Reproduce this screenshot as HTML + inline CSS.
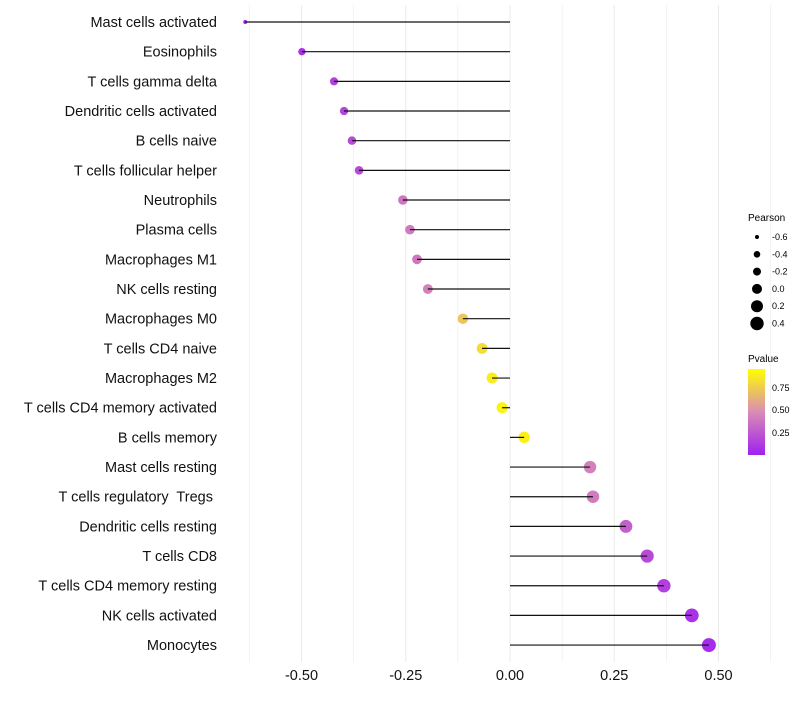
<!DOCTYPE html>
<html><head><meta charset="utf-8"><style>
body{margin:0;background:#fff;font-family:"Liberation Sans",sans-serif;}
svg text{font-family:"Liberation Sans",sans-serif;white-space:pre;}
</style></head><body>
<svg id="chart" width="800" height="700">
<defs><linearGradient id="pg" x1="0" y1="1" x2="0" y2="0">
<stop offset="0" stop-color="#a020f0"/><stop offset="0.5" stop-color="#d98cb4"/><stop offset="1" stop-color="#ffff00"/></linearGradient></defs>
<g id="grid"></g><g id="marks"></g><g id="labels"></g><g id="xticks"></g>
<g id="legP">
<text x="748" y="221" font-size="10">Pearson</text></g>
<g>
<text x="748" y="362" font-size="10">Pvalue</text>
<rect x="748" y="369" width="17" height="86" fill="url(#pg)"/>
<text x="772" y="391" font-size="9">0.75</text>
<text x="772" y="413" font-size="9">0.50</text>
<text x="772" y="436" font-size="9">0.25</text>
</g>
</svg>
<script>
const categories=["Mast cells activated","Eosinophils","T cells gamma delta","Dendritic cells activated","B cells naive","T cells follicular helper","Neutrophils","Plasma cells","Macrophages M1","NK cells resting","Macrophages M0","T cells CD4 naive","Macrophages M2","T cells CD4 memory activated","B cells memory","Mast cells resting","T cells regulatory  Tregs ","Dendritic cells resting","T cells CD8","T cells CD4 memory resting","NK cells activated","Monocytes"];
const pearson=[-0.635,-0.499,-0.422,-0.398,-0.379,-0.362,-0.257,-0.240,-0.223,-0.197,-0.113,-0.067,-0.043,-0.019,0.034,0.192,0.199,0.278,0.329,0.369,0.436,0.477];
const pvalue=[0.02,0.08,0.15,0.17,0.2,0.2,0.4,0.42,0.4,0.45,0.75,0.85,0.92,0.95,0.93,0.45,0.42,0.3,0.2,0.15,0.08,0.05];
const xTicks=[-0.5,-0.25,0,0.25,0.5];
const xTickLabels=["-0.50","-0.25","0.00","0.25","0.50"];
const legendVals=[-0.6,-0.4,-0.2,0.0,0.2,0.4];
const legendLabels=["-0.6","-0.4","-0.2","0.0","0.2","0.4"];
const NS="http://www.w3.org/2000/svg";
const x=v=>510+417*v;
const y=i=>22+i*29.67;
const r=v=>v<-0.55?2:Math.sqrt(Math.max(4,31.7+36*v));
function col(p){const s=[[160,32,240],[217,140,180],[255,255,0]];let a,b,t;if(p<0.5){a=s[0];b=s[1];t=p/0.5;}else{a=s[1];b=s[2];t=(p-0.5)/0.5;}return `rgb(${a.map((c,k)=>Math.round(c+(b[k]-c)*t)).join(',')})`;}
function mk(tag,attrs,parent){const e=document.createElementNS(NS,tag);for(const k in attrs)e.setAttribute(k,attrs[k]);parent.appendChild(e);return e;}
const grid=document.getElementById('grid'),marks=document.getElementById('marks'),labels=document.getElementById('labels'),xt=document.getElementById('xticks'),legP=document.getElementById('legP');
for(let v=-0.625;v<=0.63;v+=0.125){const g=mk('line',{x1:x(v),x2:x(v),y1:5,y2:662,stroke:'#ebebeb','stroke-width':Math.abs(v*4-Math.round(v*4))<1e-6?1:0.6},grid);

}
categories.forEach((c,i)=>{
const pt=mk('circle',{cx:x(pearson[i]),cy:y(i),r:r(pearson[i]),fill:col(pvalue[i])},marks);


const ln=mk('line',{x1:x(0),x2:x(pearson[i]),y1:y(i),y2:y(i),stroke:'#111','stroke-width':1.2},marks);


const t=mk('text',{x:217,y:y(i)+5,'text-anchor':'end','font-size':14.5,fill:'#111'},labels);t.textContent=c;


});
xTicks.forEach((v,i)=>{const t=mk('text',{x:x(v),y:680,'text-anchor':'middle','font-size':14.5,fill:'#111'},xt);t.textContent=xTickLabels[i];

});
const lr=[2,3.3,4,5,6,6.7];
legendVals.forEach((v,i)=>{const yy=237+i*17.3;const c=mk('circle',{cx:757,cy:yy,r:lr[i],fill:'#000'},legP);


const t=mk('text',{x:772,y:yy+3,'font-size':9},legP);t.textContent=legendLabels[i];

});
</script>
</body></html>
